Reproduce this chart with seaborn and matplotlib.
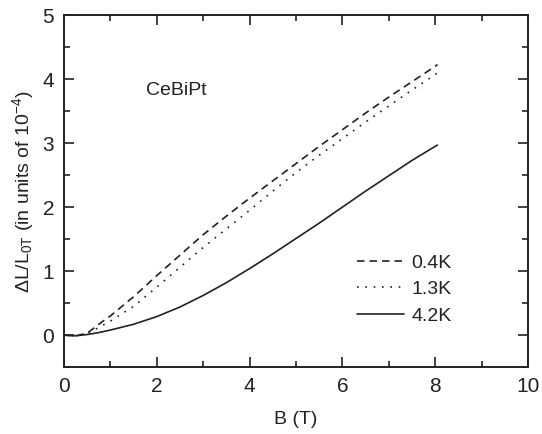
import numpy as np
import pandas as pd
import matplotlib
matplotlib.use('Agg')
import matplotlib.pyplot as plt
import seaborn as sns
from matplotlib.ticker import MultipleLocator

# campo magnético (T)
campo = [0, 0.25, 0.5, 0.75, 1, 1.5, 2, 2.5, 3, 3.5, 4, 4.5, 5, 5.5, 6, 6.5, 7, 7.5, 8, 8.05]

# dilatação (em unidades de 1e-4) para cada temperatura
dl_04K = [0, -0.01, 0.03, 0.17, 0.30, 0.60, 0.93, 1.25, 1.57, 1.86, 2.14, 2.41, 2.68,
          2.95, 3.21, 3.47, 3.72, 3.96, 4.20, 4.23]
dl_13K = [0, -0.01, 0.02, 0.12, 0.22, 0.45, 0.75, 1.06, 1.37, 1.66, 1.95, 2.25, 2.54,
          2.81, 3.07, 3.33, 3.58, 3.83, 4.07, 4.10]
dl_42K = [0, -0.01, 0.01, 0.04, 0.08, 0.17, 0.29, 0.44, 0.62, 0.82, 1.04, 1.27, 1.51,
          1.75, 2.00, 2.25, 2.49, 2.73, 2.95, 2.97]

temperaturas = ['0.4K', '1.3K', '4.2K']

sns.set_style('ticks')
plt.rcParams['font.family'] = ['Liberation Sans', 'DejaVu Sans']
plt.rcParams['mathtext.fontset'] = 'custom'
plt.rcParams['mathtext.rm'] = 'Liberation Sans'
plt.rcParams['mathtext.it'] = 'Liberation Sans'

fig = plt.figure(figsize=(5.42, 4.34), dpi=100)
ax = fig.add_axes([0.118, 0.154, 0.856, 0.811])

estilos = [(0, (4.5, 3)), (0, (1, 4)), '-']
for serie, rotulo, estilo in zip([dl_04K, dl_13K, dl_42K], temperaturas, estilos):
    df = pd.DataFrame({'B': campo, 'dL': serie})
    sns.lineplot(data=df, x='B', y='dL', ax=ax, color='#222222', linewidth=1.2,
                 linestyle=estilo, label=rotulo, estimator=None, sort=False)

ax.set_xlim(0, 10)
ax.set_ylim(-0.5, 5)
ax.xaxis.set_major_locator(MultipleLocator(2))
ax.xaxis.set_minor_locator(MultipleLocator(1))
ax.yaxis.set_major_locator(MultipleLocator(1))
ax.yaxis.set_minor_locator(MultipleLocator(0.5))
ax.tick_params(which='both', direction='in', top=True, right=True, width=1.2,
               colors='#222222', labelsize=15)
ax.tick_params(which='major', length=7, pad=7)
ax.tick_params(which='minor', length=4)
for lado in ax.spines.values():
    lado.set_linewidth(1.4)
    lado.set_color('#222222')

ax.set_xlabel('B (T)', fontsize=14, labelpad=11, color='#222222')
ax.set_ylabel(r'$\Delta$L/L$_{0T}$ (in units of 10$^{-4}$)', fontsize=14,
              labelpad=5, color='#222222')

ax.text(1.77, 3.76, 'CeBiPt', fontsize=14, color='#222222')

leg = ax.legend(loc='upper left', bbox_to_anchor=(0.615, 0.343), frameon=False,
                fontsize=14, handlelength=2.4, handletextpad=0.4, labelspacing=0.45,
                borderaxespad=0)
for t in leg.get_texts():
    t.set_color('#222222')

plt.savefig('out.png', dpi=100)
